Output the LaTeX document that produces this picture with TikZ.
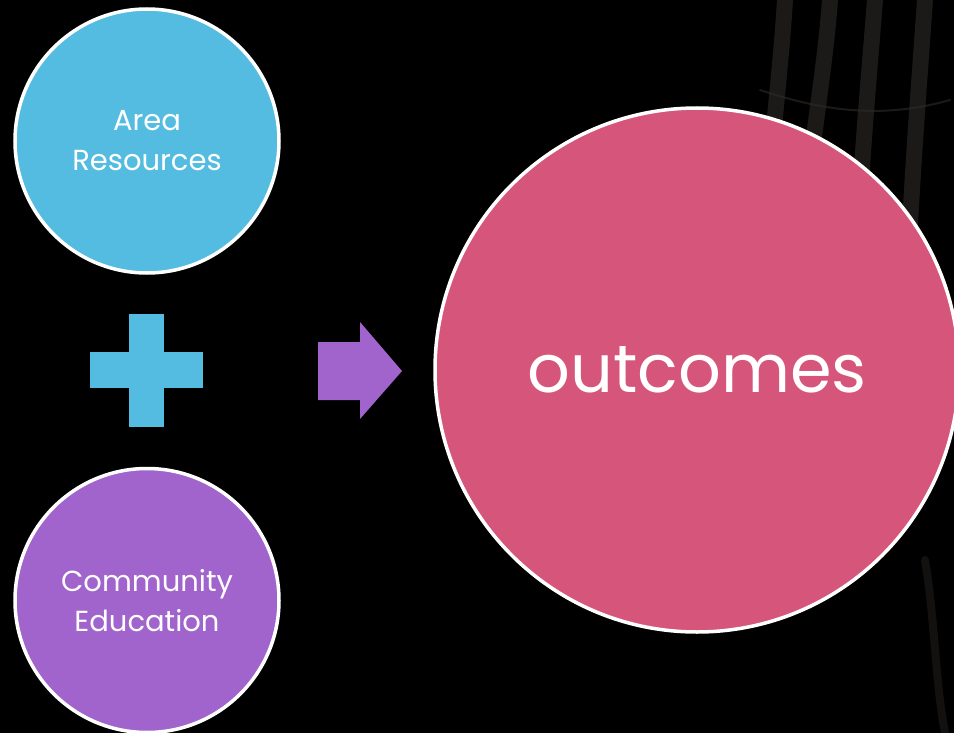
\documentclass[tikz,border=0pt]{standalone}
\usepackage{fontspec}
\setmainfont{Poppins}
\usetikzlibrary{positioning}
\definecolor{skyblue}{HTML}{54BCE0}
\definecolor{lavender}{HTML}{A064CC}
\definecolor{rose}{HTML}{D6557A}
\definecolor{strand}{HTML}{2E2C2A}
\tikzset{
  bubble/.style={
    circle,
    draw=white,
    line width=3.5pt,
    text=white,
    align=center,
    inner sep=0pt
    },
  input/.style={
    bubble,
    minimum size=264pt,
    font=\fontsize{29}{40}\selectfont
    },
  result/.style={
    bubble,
    minimum size=524pt,
    fill=rose,
    font=\fontsize{67}{70}\selectfont
    },
  strands/.style={
    strand,
    line width=16pt,
    opacity=0.6,
    line cap=round
    },
}

\begin{document}
\begin{tikzpicture}[x=1pt,y=-1pt]
\fill[black] (0,0) rectangle (954,733);
\useasboundingbox (0,0) rectangle (954,733);
% faint backdrop on the right
\draw[strands] (785,0) .. controls (780,80) and (770,150) .. (765,240);
\draw[strands] (830,0) .. controls (825,70) and (810,150) .. (800,260);
\draw[strands] (875,0) .. controls (868,90) and (860,170) .. (855,300);
\draw[strands] (925,0) .. controls (918,100) and (910,200) .. (905,330);
\draw[strands,line width=2pt] (760,90) .. controls (820,110) and (880,120) .. (950,100);
\draw[strands,line width=8pt,opacity=0.4] (925,560) .. controls (935,620) and (935,680) .. (945,733);

\node (area) [input,fill=skyblue] at (147,141) {Area\\Resources};
\node (edu) [input,fill=lavender,below=192pt of area] {Community\\Education};
\node (outc) [result] at (697,370) {outcomes};

% plus sign between the two inputs
\fill[skyblue] (129,314) rectangle (164,427);
\fill[skyblue] (90,352) rectangle (203,388);
% block arrow towards the result
\fill[lavender] (318,342) -- (360,342) -- (360,322) -- (402,371)
  -- (360,419) -- (360,400) -- (318,400) -- cycle;
\end{tikzpicture}
\end{document}
